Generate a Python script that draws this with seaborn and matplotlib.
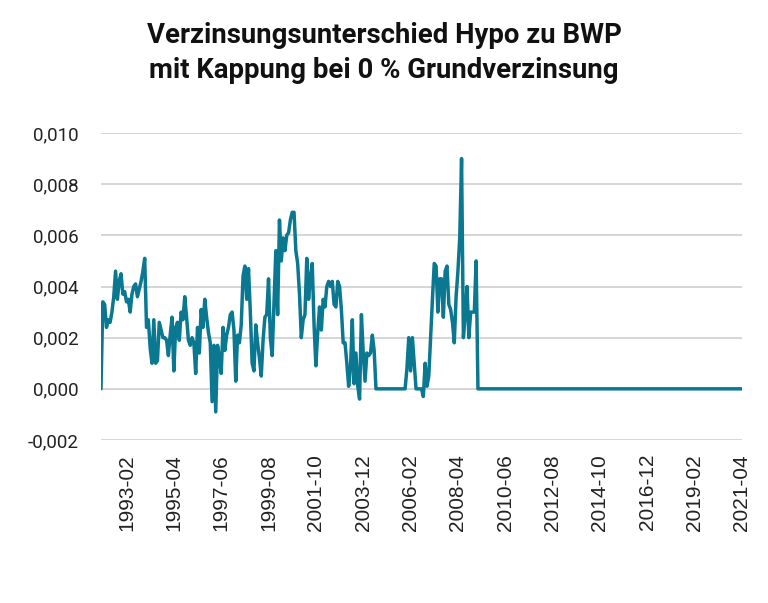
import matplotlib
matplotlib.use("Agg")
import matplotlib.pyplot as plt
import matplotlib.ticker as mticker
import numpy as np
import pandas as pd
import seaborn as sns

# Monatswerte ab 1991-12
werte_1991_2004 = [
    0.0000, 0.0034, 0.0033, 0.0024, 0.0027, 0.0026, 0.0030, 0.0036, 0.0046, 0.0035,
    0.0042, 0.0045, 0.0037, 0.0038, 0.0034, 0.0035, 0.0030, 0.0037, 0.0040, 0.0041,
    0.0036, 0.0039, 0.0042, 0.0046, 0.0051, 0.0024, 0.0027, 0.0016, 0.0010, 0.0027,
    0.0010, 0.0011, 0.0026, 0.0023, 0.0020, 0.0020, 0.0019, 0.0013, 0.0021, 0.0028,
    0.0007, 0.0024, 0.0026, 0.0019, 0.0030, 0.0027, 0.0036, 0.0028, 0.0019, 0.0017,
    0.0020, 0.0018, 0.0006, 0.0024, 0.0014, 0.0031, 0.0024, 0.0035, 0.0028, 0.0022,
    0.0018, -0.0005, 0.0017, -0.0009, 0.0017, 0.0012, 0.0006, 0.0024, 0.0015, 0.0021,
    0.0024, 0.0029, 0.0030, 0.0023, 0.0003, 0.0021, 0.0018, 0.0025, 0.0044, 0.0048,
    0.0035, 0.0047, 0.0030, 0.0010, 0.0007, 0.0025, 0.0018, 0.0012, 0.0005, 0.0019,
    0.0028, 0.0029, 0.0043, 0.0020, 0.0013, 0.0033, 0.0054, 0.0029, 0.0066, 0.0050,
    0.0059, 0.0054, 0.0060, 0.0061, 0.0066, 0.0069, 0.0069, 0.0054, 0.0049, 0.0037,
    0.0020, 0.0027, 0.0029, 0.0051, 0.0035, 0.0044, 0.0049, 0.0025, 0.0009, 0.0022,
    0.0032, 0.0023, 0.0035, 0.0032, 0.0040, 0.0042, 0.0040, 0.0042, 0.0033, 0.0032,
    0.0042, 0.0040, 0.0031, 0.0018, 0.0018, 0.0010, 0.0001, 0.0008, 0.0027, 0.0002,
    0.0014, 0.0001, -0.0004, 0.0029, 0.0014, 0.0003, 0.0014, 0.0013, 0.0014, 0.0021,
    0.0015,
]
werte_2004_2006 = [0.0] * 17
werte_2006 = [0.0008, 0.0020, 0.0007, 0.0020, 0.0010]
werte_2006_2007 = [0.0] * 4
werte_2007_2009 = [
    -0.0003, 0.0010, 0.0001, 0.0005, 0.0020, 0.0035, 0.0049, 0.0048, 0.0030, 0.0043,
    0.0043, 0.0028, 0.0046, 0.0048, 0.0033, 0.0031, 0.0026, 0.0018, 0.0036, 0.0046,
    0.0059, 0.0090, 0.0020, 0.0029, 0.0040, 0.0020, 0.0030, 0.0030, 0.0030, 0.0050,
]
werte_2009_2021 = [0.0] * 146

werte = (werte_1991_2004 + werte_2004_2006 + werte_2006 + werte_2006_2007
         + werte_2007_2009 + werte_2009_2021)
monate = pd.date_range("1991-12-01", periods=len(werte), freq="MS").strftime("%Y-%m")

df = pd.DataFrame({"pos": np.arange(len(werte)), "monat": monate, "wert": werte})

sns.set_style("white")
plt.rcParams["font.family"] = ["Roboto", "DejaVu Sans"]

fig = plt.figure(figsize=(7.68, 6.03), dpi=100)
ax = fig.add_axes([101 / 768, 1 - 440 / 603, 641 / 768, 307 / 603])

sns.lineplot(data=df, x="pos", y="wert", ax=ax, color="#0b7892", linewidth=2.5)

ax.set_xlim(0, len(werte) - 1)
ax.set_ylim(-0.002, 0.010)
ax.set_yticks(np.arange(-0.002, 0.0101, 0.002))
ax.yaxis.set_major_formatter(mticker.FuncFormatter(lambda v, p: f"{v:.3f}".replace(".", ",")))

tick_pos = df["pos"].iloc[14::26]
ax.set_xticks(tick_pos)
ax.set_xticklabels(df["monat"].iloc[14::26], rotation=90, fontsize=15,
                   family="Liberation Sans", color="#222222")
ax.tick_params(axis="x", length=0, pad=10)
ax.tick_params(axis="y", length=0, pad=16, labelsize=13.5, labelcolor="#222222")

ax.grid(axis="y", color="#d2d2d2", linewidth=1.3)
ax.grid(axis="x", visible=False)
ax.set_axisbelow(True)
for s in ax.spines.values():
    s.set_visible(False)
ax.set_xlabel("")
ax.set_ylabel("")

fig.text(0.5, 0.964, "Verzinsungsunterschied Hypo zu BWP\nmit Kappung bei 0 % Grundverzinsung",
         ha="center", va="top", fontsize=19.8, fontweight="bold", color="#111111",
         linespacing=1.38)

fig.savefig("out.png", dpi=100)
